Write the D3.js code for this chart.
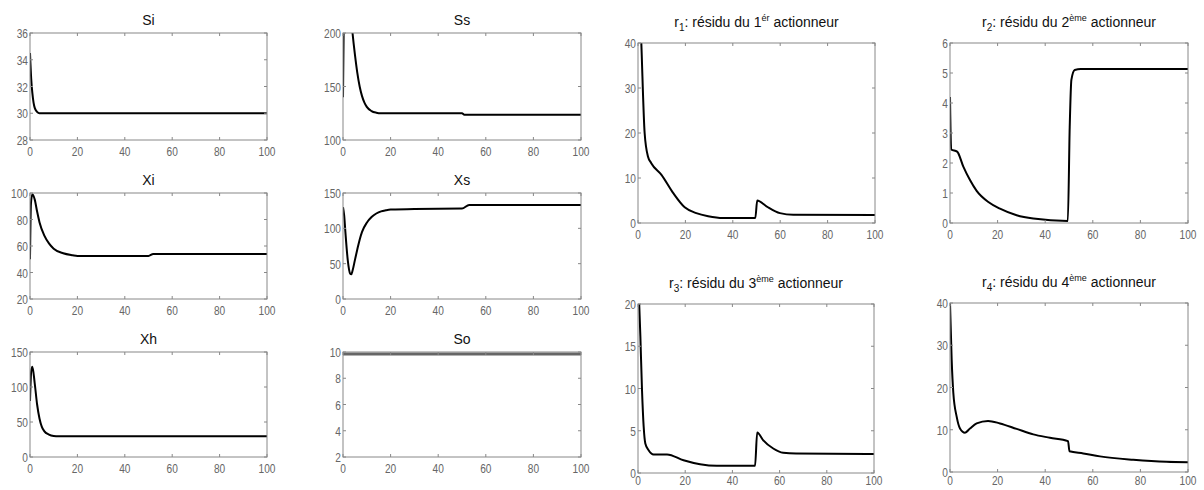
<!DOCTYPE html>
<html lang="fr">
<head>
<meta charset="UTF-8">
<script src="https://d3js.org/d3.v7.min.js"></script>
<title>Résidus et états</title>
<style>
  body { margin: 0; background: #fff; }
  .tick-label { font-family: "Liberation Sans", Arial, sans-serif; font-size: 13.5px; fill: #666; }
  .title { font-family: "Liberation Sans", Arial, sans-serif; font-size: 14px; fill: #111; }
</style>
</head>
<body>
<div id="chart"></div>
<script>
// x ticks shared by every subplot (time)
const xTicks = [0, 20, 40, 60, 80, 100];

// state curves, [t, value]
const siData = [[0,34.5],[0.5,32.6],[1,31.5],[1.5,30.8],[2,30.4],[3,30.1],[4,30],[100,30]];
const ssData = [[0,140],[0.4,230],[1.5,260],[3,225],[4,200],[5,180],[6,163],[7,150],[8,141],[9,135],[10,131],[12,127],[14,125.5],[16,125],[50,125],[51,123.5],[100,123.5]];
const xiData = [[0,50],[0.4,92],[1,99],[2,95],[3,86],[4,78],[6,68],[8,62],[10,58],[14,54.5],[18,53],[20,52.5],[50,52.5],[52,54],[100,54]];
const xsData = [[0,130],[0.5,118],[1,95],[2,55],[3,36],[3.5,35],[4,40],[5,55],[6,70],[7,84],[8,95],[10,108],[12,116],[14,121],[16,124],[18,125.5],[20,126.5],[30,127.5],[50,128],[53,133],[100,133]];
const xhData = [[0,80],[0.5,122],[1,129],[2,105],[3,75],[4,55],[5,43],[6,37],[8,32],[10,30],[12,29.5],[100,29.5]];
const soData = [[0,9.85],[100,9.85]];

// residuals, [t, value]
const r1Data = [[0,60],[1.4,40],[2.8,20],[4.2,14.8],[5.6,13.3],[9.9,10.7],[14.8,6.7],[19.7,3.5],[24.6,2.2],[29.6,1.5],[35.9,1.1],[49.5,1.1],[50.3,5],[54.2,3.7],[59.9,2.2],[65.5,1.85],[100,1.8]];
const r2Data = [[0,4.2],[0.5,2.45],[3,2.38],[5.6,1.88],[8.4,1.43],[11.2,1.07],[16.1,0.7],[21,0.48],[28,0.26],[35,0.15],[49.5,0.07],[50.3,3.2],[51,4.77],[52.4,5.1],[55,5.13],[100,5.13]];
const r3Data = [[0,24],[1,16.2],[1.7,9.8],[2.4,5.5],[3.1,3.5],[4.5,2.7],[6.6,2.2],[12.3,2.2],[19.3,1.5],[26.3,1.03],[33.4,0.85],[49.6,0.85],[50.5,4.8],[53,3.9],[57.3,2.9],[61.5,2.4],[67,2.3],[100,2.25]];
const r4Data = [[0,40],[0.7,26.6],[1.4,18.7],[2.8,13.1],[4.2,10.3],[6.3,9.3],[8.4,10.3],[11.2,11.5],[16,12.1],[21,11.5],[28,10.2],[35,8.9],[42,8.1],[49.6,7.3],[50.2,4.9],[56,4.4],[63,3.7],[77,2.9],[91,2.4],[100,2.3]];

// y ticks
const siTicks = [28, 30, 32, 34, 36];
const ssTicks = [100, 150, 200];
const xiTicks = [20, 40, 60, 80, 100];
const xsTicks = [0, 50, 100, 150];
const xhTicks = [0, 50, 100, 150];
const soTicks = [2, 4, 6, 8, 10];
const r1Ticks = [0, 10, 20, 30, 40];
const r2Ticks = [0, 1, 2, 3, 4, 5, 6];
const r3Ticks = [0, 5, 10, 15, 20];
const r4Ticks = [0, 10, 20, 30, 40];

// titles: plain text, or [main, sub, mid, sup, end]
const panels = [
  { title: "Si", data: siData, ticks: siTicks, box: [30, 33, 267, 140] },
  { title: "Ss", data: ssData, ticks: ssTicks, box: [343, 33, 581, 140] },
  { title: "Xi", data: xiData, ticks: xiTicks, box: [30, 193, 267, 299] },
  { title: "Xs", data: xsData, ticks: xsTicks, box: [343, 193, 581, 299] },
  { title: "Xh", data: xhData, ticks: xhTicks, box: [30, 352, 267, 457] },
  { title: "So", data: soData, ticks: soTicks, box: [343, 352, 581, 457], color: "#666", width: 3 },
  { title: ["r", "1", ": résidu du 1", "ér", " actionneur"], data: r1Data, ticks: r1Ticks, box: [638, 43, 875, 223] },
  { title: ["r", "2", ": résidu du 2", "ème", " actionneur"], data: r2Data, ticks: r2Ticks, box: [950, 43, 1188, 223] },
  { title: ["r", "3", ": résidu du 3", "ème", " actionneur"], data: r3Data, ticks: r3Ticks, box: [638, 304, 874, 473] },
  { title: ["r", "4", ": résidu du 4", "ème", " actionneur"], data: r4Data, ticks: r4Ticks, box: [950, 303, 1188, 472] }
];

const svg = d3.select("#chart").append("svg")
  .attr("width", 1204)
  .attr("height", 490);

svg.append("rect").attr("width", 1204).attr("height", 490).attr("fill", "#fff");

// tick labels in the picture are narrow and tall, squeeze them horizontally
function tickLabel(g, tx, ty, anchor, txt) {
  g.append("text").attr("class", "tick-label")
    .attr("transform", `translate(${tx},${ty}) scale(0.75,1)`)
    .attr("text-anchor", anchor)
    .text(txt);
}

panels.forEach((p, i) => {
  const [x0, y0, x1, y1] = p.box;
  const yExt = d3.extent(p.ticks);
  const x = d3.scaleLinear().domain([0, 100]).range([x0, x1]);
  const y = d3.scaleLinear().domain(yExt).range([y1, y0]);
  const g = svg.append("g");

  g.append("clipPath").attr("id", "clip" + i)
    .append("rect").attr("x", x0).attr("y", y0).attr("width", x1 - x0).attr("height", y1 - y0);

  const line = d3.line()
    .x(d => x(d[0]))
    .y(d => y(d[1]))
    .curve(d3.curveMonotoneX);

  g.append("path")
    .datum(p.data)
    .attr("clip-path", `url(#clip${i})`)
    .attr("d", line)
    .attr("fill", "none")
    .attr("stroke", p.color || "#000")
    .attr("stroke-width", p.width || 2)
    .attr("stroke-linejoin", "round");

  // box + inward ticks on all four sides (matlab style)
  const tl = 3;
  g.append("rect")
    .attr("x", x0).attr("y", y0).attr("width", x1 - x0).attr("height", y1 - y0)
    .attr("fill", "none").attr("stroke", "#888").attr("stroke-width", 1);

  // bottom row on the right sits against the page edge
  const xLabelY = Math.min(y1 + 16, 485);
  xTicks.forEach(t => {
    g.append("line").attr("x1", x(t)).attr("x2", x(t)).attr("y1", y1).attr("y2", y1 - tl).attr("stroke", "#888");
    g.append("line").attr("x1", x(t)).attr("x2", x(t)).attr("y1", y0).attr("y2", y0 + tl).attr("stroke", "#888");
    tickLabel(g, x(t), xLabelY, "middle", t);
  });

  p.ticks.forEach(t => {
    g.append("line").attr("x1", x0).attr("x2", x0 + tl).attr("y1", y(t)).attr("y2", y(t)).attr("stroke", "#888");
    g.append("line").attr("x1", x1).attr("x2", x1 - tl).attr("y1", y(t)).attr("y2", y(t)).attr("stroke", "#888");
    tickLabel(g, x0 - 2, y(t) + 5, "end", t);
  });

  const cx = (x0 + x1) / 2;
  if (typeof p.title === "string") {
    g.append("text").attr("class", "title")
      .attr("x", cx).attr("y", y0 - 8)
      .attr("text-anchor", "middle")
      .text(p.title);
  } else {
    const [a, sub, mid, sup, end] = p.title;
    const t = g.append("text").attr("class", "title")
      .attr("x", cx).attr("y", y0 - 16)
      .attr("text-anchor", "middle");
    t.append("tspan").text(a);
    t.append("tspan").attr("dy", 4).attr("font-size", 10).text(sub);
    t.append("tspan").attr("dy", -4).text(mid);
    t.append("tspan").attr("dy", -6).attr("font-size", 9).text(sup);
    t.append("tspan").attr("dy", 6).text(end);
  }
});
</script>
</body>
</html>
